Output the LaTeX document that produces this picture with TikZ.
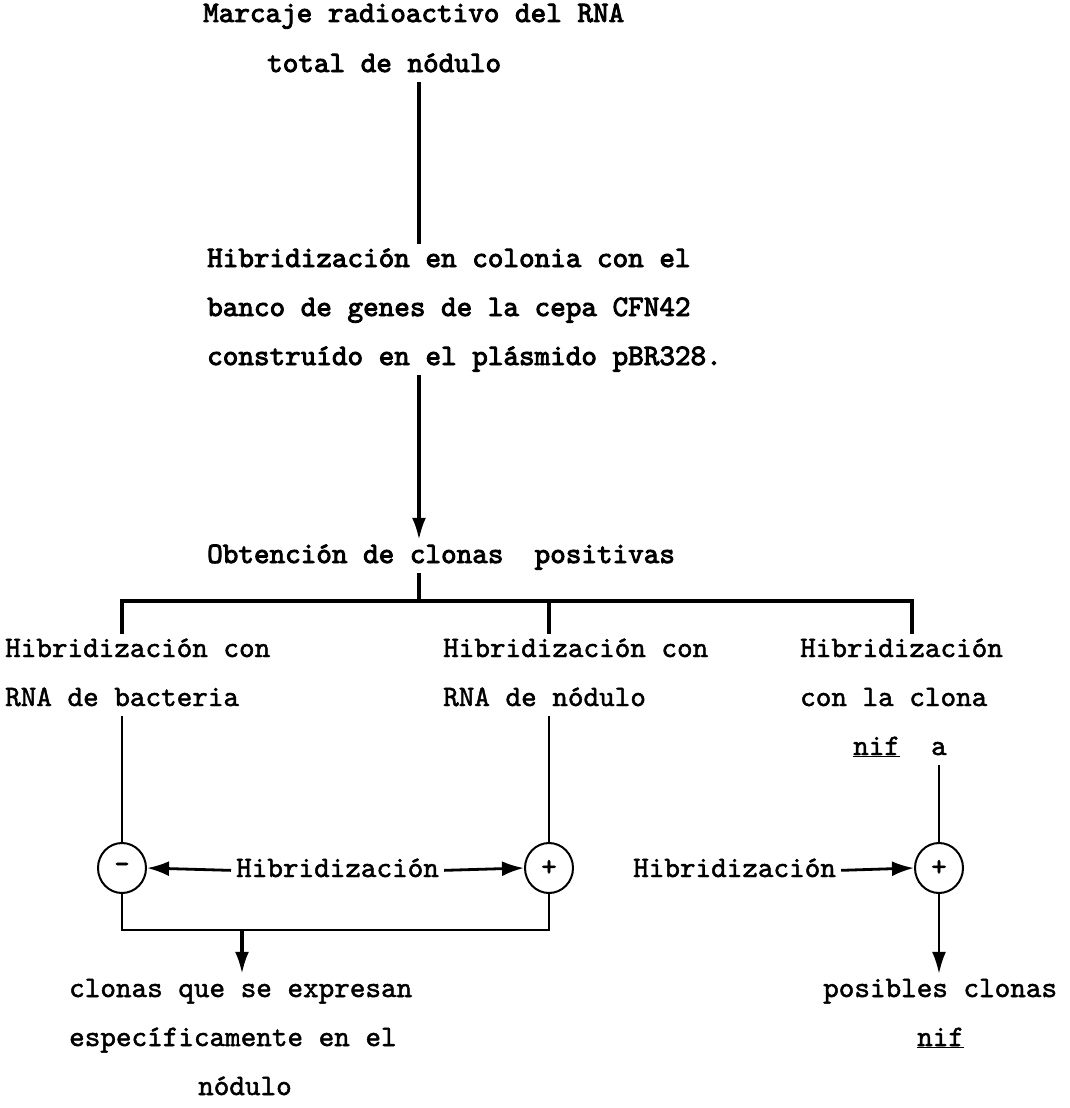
\documentclass[tikz,border=0pt]{standalone}
\usepackage{fontspec}
\newfontfamily\typewr{lmmono10-regular}[Extension=.otf, FakeBold=1.6]
\newfontfamily\typewrbold{lmmono10-regular}[Extension=.otf, FakeBold=3]
\usetikzlibrary{arrows.meta, shapes.geometric}

\begin{document}
\begin{tikzpicture}[x=1pt, y=-1pt, font=\typewr\bfseries\fontsize{29.7}{34}\selectfont]
  % --- the constants everything else is derived from -----------------------
  \def\xa{122}    % left branch    (bacteria, minus)
  \def\xb{549}    % middle branch  (nodule, plus)
  \def\xc{939}    % right branch   (nif a, plus)
  \def\yc{868}    % centre line of the three circles

  \tikzset{
    txt/.style={anchor=base west, inner xsep=0pt, inner ysep=4pt,
      text height=19pt, text depth=6pt},
    heavy/.style={txt, font=\typewrbold\bfseries\fontsize{29.7}{34}\selectfont},
    wire/.style={line width=3.2pt},
    thin/.style={line width=2.4pt},
    flow/.style={wire, -{Latex[length=22pt, width=14pt]}},
    side/.style={line width=2.8pt, -{Latex[length=22pt, width=15pt]}},
    ring/.style={ellipse, draw, line width=2pt, minimum width=48pt,
      minimum height=50pt, inner sep=0pt}}

  \useasboundingbox (0,0) rectangle (1070,1108);

  % ---- 1. the top column ----------------------------------------------------
  \node[heavy] (marc) at (203,22) {Marcaje radioactivo del RNA};
  \node[heavy] (tot)  at (267,72) {total de nódulo};
  \node[heavy] (col)  at (207,267) {Hibridización en colonia con el};
  \node[heavy] (banc) at (207,316) {banco de genes de la cepa CFN42};
  \node[heavy] (cons) at (207,365) {construído en el plásmido pBR328.};
  \node[heavy] (obt)  at (207,563) {Obtención de clonas\ \ positivas};

  \coordinate (spine) at (419,0);
  \coordinate (bus)   at (0,601);
  \coordinate (colC)  at (912,0);

  \draw[wire] (tot.south -| spine) -- (col.north -| spine);
  \draw[flow] (cons.south -| spine) -- (obt.north -| spine);
  \draw[wire] (obt.south -| spine) -- (spine |- bus);

  % ---- 2. the three hybridisations -----------------------------------------
  \node[txt] (lhib) at (5,657)   {Hibridización con};
  \node[txt] (lrna) at (5,706)   {RNA de bacteria};
  \node[txt] (mhib) at (443,657) {Hibridización con};
  \node[txt] (mrna) at (443,706) {RNA de nódulo};
  \node[txt] (rhib) at (800,657) {Hibridización};
  \node[txt] (rcon) at (800,706) {con la clona};
  \node[txt] (rnif) at (853,755) {\underline{nif}\ \ a};

  \draw[wire] (lhib.north -| \xa,0) -- (\xa,601) -- (colC |- bus)
    -- (rhib.north -| colC);
  \draw[wire] (\xb,601) -- (mhib.north -| \xb,0);

  % ---- 3. the circles and the sideways hybridisation -----------------------
  \node[ring] (neg)  at (\xa,\yc) {-};
  \node[ring] (pos)  at (\xb,\yc) {+};
  \node[ring] (pos2) at (\xc,\yc) {+};

  \draw[thin] (neg.north |- lrna.south) -- (neg.north);
  \draw[thin] (pos.north |- mrna.south) -- (pos.north);
  \draw[thin] (pos2.north |- rnif.south) -- (pos2.north);

  \node[txt] (hmid) at (236,877) {Hibridización};
  \node[txt] (hrgt) at (633,877) {Hibridización};
  \draw[side, shorten <=5pt] (hmid.west) -- (neg.east);
  \draw[side, shorten <=5pt] (hmid.east) -- (pos.west);
  \draw[side, shorten <=5pt] (hrgt.east) -- (pos2.west);

  % ---- 4. the two results ---------------------------------------------------
  \node[txt] (clon) at (69,997)   {clonas que se expresan};
  \node[txt] (espe) at (69,1046)  {específicamente en el};
  \node[txt] (nodu) at (198,1095) {nódulo};
  \node[txt] (posi) at (823,997)  {posibles clonas};
  \node[txt] (pnif) at (917,1046) {\underline{nif}};

  \coordinate (low)  at (0,930);
  \coordinate (drop) at (242,930);
  \draw[thin] (neg.south) -- (neg.south |- low) -- (pos.south |- low)
    -- (pos.south);
  \draw[flow] (drop) -- (drop |- clon.north);
  \draw[thin, -{Latex[length=22pt, width=14pt]}] (pos2.south)
    -- (pos2.south |- posi.north);
\end{tikzpicture}
\end{document}
